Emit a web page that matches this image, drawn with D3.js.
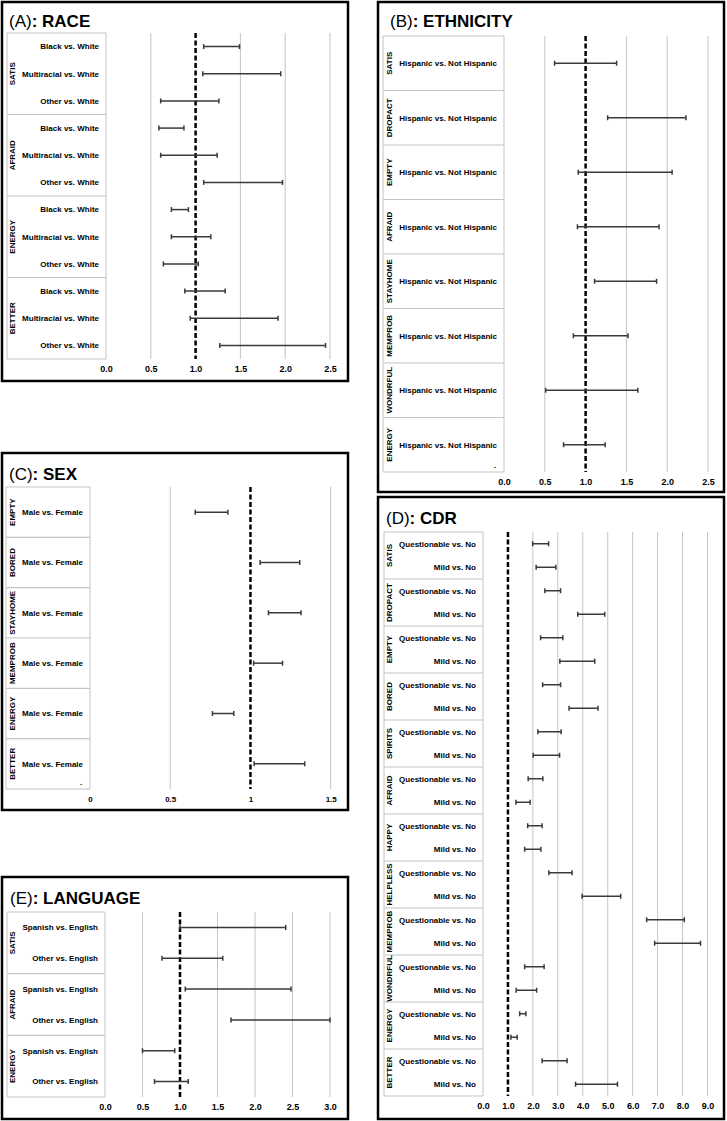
<!DOCTYPE html>
<html>
<head>
<meta charset="utf-8">
<script src="https://cdn.jsdelivr.net/npm/d3@7"></script>
<style>
  body { margin: 0; background: #fff; }
  text { font-family: "Liberation Sans", Arial, sans-serif; }
</style>
</head>
<body>
<svg id="chart" width="727" height="1121"></svg>
<script>
// (A) race
const raceGroups = ["SATIS", "AFRAID", "ENERGY", "BETTER"];
const raceRows = ["Black vs. White", "Multiracial vs. White", "Other vs. White"];
const raceLower = [1.09, 1.08, 0.61, 0.59, 0.61, 1.09, 0.73, 0.73, 0.64, 0.88, 0.94, 1.27];
const raceUpper = [1.49, 1.95, 1.26, 0.87, 1.24, 1.97, 0.92, 1.17, 1.03, 1.33, 1.92, 2.45];
const raceTicks = [0, 0.5, 1, 1.5, 2, 2.5];

// (B) ethnicity
const ethGroups = ["SATIS", "DROPACT", "EMPTY", "AFRAID", "STAYHOME", "MEMPROB", "WONDRFUL", "ENERGY"];
const ethRows = ["Hispanic vs. Not Hispanic"];
const ethLower = [0.62, 1.27, 0.91, 0.90, 1.11, 0.85, 0.51, 0.73];
const ethUpper = [1.38, 2.23, 2.06, 1.90, 1.87, 1.52, 1.64, 1.24];
const ethTicks = [0, 0.5, 1, 1.5, 2, 2.5];

// (C) sex
const sexGroups = ["EMPTY", "BORED", "STAYHOME", "MEMPROB", "ENERGY", "BETTER"];
const sexRows = ["Male vs. Female"];
const sexLower = [0.656, 1.06, 1.112, 1.02, 0.763, 1.023];
const sexUpper = [0.859, 1.307, 1.315, 1.20, 0.896, 1.338];
const sexTicks = [0, 0.5, 1, 1.5];

// (D) CDR
const cdrGroups = ["SATIS", "DROPACT", "EMPTY", "BORED", "SPIRITS", "AFRAID", "HAPPY", "HELPLESS", "MEMPROB", "WONDRFUL", "ENERGY", "BETTER"];
const cdrRows = ["Questionable vs. No", "Mild vs. No"];
const cdrLower = [1.99, 2.13, 2.48, 3.80, 2.31, 3.08, 2.39, 3.45, 2.20, 2.01, 1.81, 1.32, 1.79, 1.67, 2.64, 3.97, 6.56, 6.88, 1.67, 1.33, 1.47, 1.12, 2.37, 3.71];
const cdrUpper = [2.63, 2.92, 3.11, 4.88, 3.20, 4.48, 3.11, 4.61, 3.13, 3.07, 2.40, 1.89, 2.37, 2.32, 3.57, 5.52, 8.07, 8.72, 2.45, 2.15, 1.72, 1.37, 3.37, 5.39];
const cdrTicks = [0, 1, 2, 3, 4, 5, 6, 7, 8, 9];

// (E) language
const langGroups = ["SATIS", "AFRAID", "ENERGY"];
const langRows = ["Spanish vs. English", "Other vs. English"];
const langLower = [1.00, 0.76, 1.07, 1.68, 0.50, 0.66];
const langUpper = [2.41, 1.57, 2.48, 3.00, 0.93, 1.11];
const langTicks = [0, 0.5, 1, 1.5, 2, 2.5, 3];

const svg = d3.select("#chart");

function drawPanel(p) {
  const g = svg.append("g");

  // outer box
  g.append("rect")
    .attr("x", p.box[0]).attr("y", p.box[1])
    .attr("width", p.box[2] - p.box[0]).attr("height", p.box[3] - p.box[1])
    .attr("fill", "none").attr("stroke", "#000").attr("stroke-width", 2.5);

  // title: "(A)" plain, ": RACE" bold
  const t = g.append("text").attr("x", p.titleX).attr("y", p.titleY).attr("font-size", 17);
  t.append("tspan").text(p.letter);
  t.append("tspan").attr("font-weight", "bold").text(": " + p.name);

  const x = d3.scaleLinear().domain([0, d3.max(p.ticks)]).range([p.x0, p.x1]);
  const keys = p.groups.flatMap(gr => p.rows.map(r => gr + "|" + r));
  const y = d3.scaleBand().domain(keys).range([p.top, p.bottom]);
  const gy = d3.scaleBand().domain(p.groups).range([p.top, p.bottom]);

  // gridlines (0 is the table edge, 1 is the dashed reference)
  g.selectAll(".grid")
    .data(p.ticks.filter(d => d !== 0 && d !== 1))
    .join("line")
    .attr("x1", d => x(d)).attr("x2", d => x(d))
    .attr("y1", p.top).attr("y2", p.bottom)
    .attr("stroke", "#c4c4c4").attr("stroke-width", 1);

  // label table
  const tbl = "#c4c4c4";
  g.append("line").attr("x1", p.tableLeft).attr("x2", p.tableLeft)
    .attr("y1", p.top).attr("y2", p.bottom).attr("stroke", tbl);
  g.append("line").attr("x1", x(0)).attr("x2", x(0))
    .attr("y1", p.top).attr("y2", p.bottom).attr("stroke", tbl);
  g.selectAll(".sep")
    .data(p.groups.map(d => gy(d)).concat([p.bottom]))
    .join("line")
    .attr("x1", p.tableLeft).attr("x2", x(0))
    .attr("y1", d => d).attr("y2", d => d)
    .attr("stroke", tbl).attr("stroke-width", 1.2);

  // group labels, rotated
  g.selectAll(".glabel")
    .data(p.groups)
    .join("text")
    .attr("transform", d => `translate(${p.groupX},${gy(d) + gy.bandwidth() / 2}) rotate(-90)`)
    .attr("text-anchor", "middle")
    .attr("dy", "0.35em")
    .attr("font-size", 8).attr("font-weight", "bold")
    .text(d => d);

  // row labels
  g.selectAll(".rlabel")
    .data(keys)
    .join("text")
    .attr("x", p.rowX)
    .attr("y", d => y(d) + y.bandwidth() / 2)
    .attr("dy", "0.35em")
    .attr("text-anchor", "end")
    .attr("font-size", 8).attr("font-weight", "bold")
    .text(d => d.split("|")[1]);

  // x axis labels
  const ax = g.append("g")
    .attr("transform", `translate(0,${p.bottom})`)
    .call(d3.axisBottom(x).tickValues(p.ticks).tickFormat(p.fmt).tickSize(0).tickPadding(7));
  ax.select(".domain").remove();
  ax.selectAll("text")
    .attr("font-family", "'Liberation Sans', Arial, sans-serif")
    .attr("font-size", p.tickSize).attr("font-weight", "bold").attr("fill", "#000");

  // reference line at 1
  g.append("line")
    .attr("x1", x(1)).attr("x2", x(1))
    .attr("y1", p.top).attr("y2", p.bottom)
    .attr("stroke", "#000").attr("stroke-width", 2.5)
    .attr("stroke-dasharray", "5,2.5");

  // confidence intervals
  const ci = keys.map((k, i) => ({ k, lo: p.lower[i], hi: p.upper[i] }));
  const bars = g.selectAll(".ci").data(ci).join("g")
    .attr("transform", d => `translate(0,${y(d.k) + y.bandwidth() / 2})`);
  bars.append("line")
    .attr("x1", d => x(d.lo)).attr("x2", d => x(d.hi))
    .attr("stroke", "#3a3a3a").attr("stroke-width", 1.5);
  bars.selectAll(".cap")
    .data(d => [d.lo, d.hi])
    .join("line")
    .attr("x1", d => x(d)).attr("x2", d => x(d))
    .attr("y1", -2.5).attr("y2", 2.5)
    .attr("stroke", "#3a3a3a").attr("stroke-width", 1.5);

  if (p.dot) {
    g.append("text").attr("x", p.dot[0]).attr("y", p.dot[1])
      .attr("font-size", 8).attr("font-weight", "bold").text(".");
  }
}

const f1 = d3.format(".1f");

drawPanel({
  letter: "(A)", name: "RACE", box: [2, 2, 348, 381], titleX: 9, titleY: 27,
  groups: raceGroups, rows: raceRows, lower: raceLower, upper: raceUpper,
  ticks: raceTicks, fmt: f1, tickSize: 9,
  x0: 106, x1: 330, top: 33, bottom: 359, tableLeft: 7, groupX: 12, rowX: 99
});

drawPanel({
  letter: "(B)", name: "ETHNICITY", box: [378, 2, 724, 492], titleX: 390, titleY: 27,
  groups: ethGroups, rows: ethRows, lower: ethLower, upper: ethUpper,
  ticks: ethTicks, fmt: f1, tickSize: 9,
  x0: 504, x1: 708, top: 36, bottom: 472, tableLeft: 383, groupX: 389, rowX: 497,
  dot: [494, 468]
});

drawPanel({
  letter: "(C)", name: "SEX", box: [2, 453, 348, 810], titleX: 9, titleY: 480,
  groups: sexGroups, rows: sexRows, lower: sexLower, upper: sexUpper,
  ticks: sexTicks, fmt: d3.format(""), tickSize: 8,
  x0: 90, x1: 330.7, top: 487, bottom: 789, tableLeft: 6, groupX: 12, rowX: 83,
  dot: [80, 785]
});

drawPanel({
  letter: "(D)", name: "CDR", box: [378, 497, 724, 1119], titleX: 386, titleY: 524,
  groups: cdrGroups, rows: cdrRows, lower: cdrLower, upper: cdrUpper,
  ticks: cdrTicks, fmt: f1, tickSize: 9,
  x0: 483, x1: 707.5, top: 532, bottom: 1096, tableLeft: 384, groupX: 389, rowX: 476
});

drawPanel({
  letter: "(E)", name: "LANGUAGE", box: [2, 877, 348, 1119], titleX: 10, titleY: 904,
  groups: langGroups, rows: langRows, lower: langLower, upper: langUpper,
  ticks: langTicks, fmt: f1, tickSize: 9,
  x0: 105, x1: 330, top: 912, bottom: 1097, tableLeft: 7, groupX: 12, rowX: 98
});
</script>
</body>
</html>
